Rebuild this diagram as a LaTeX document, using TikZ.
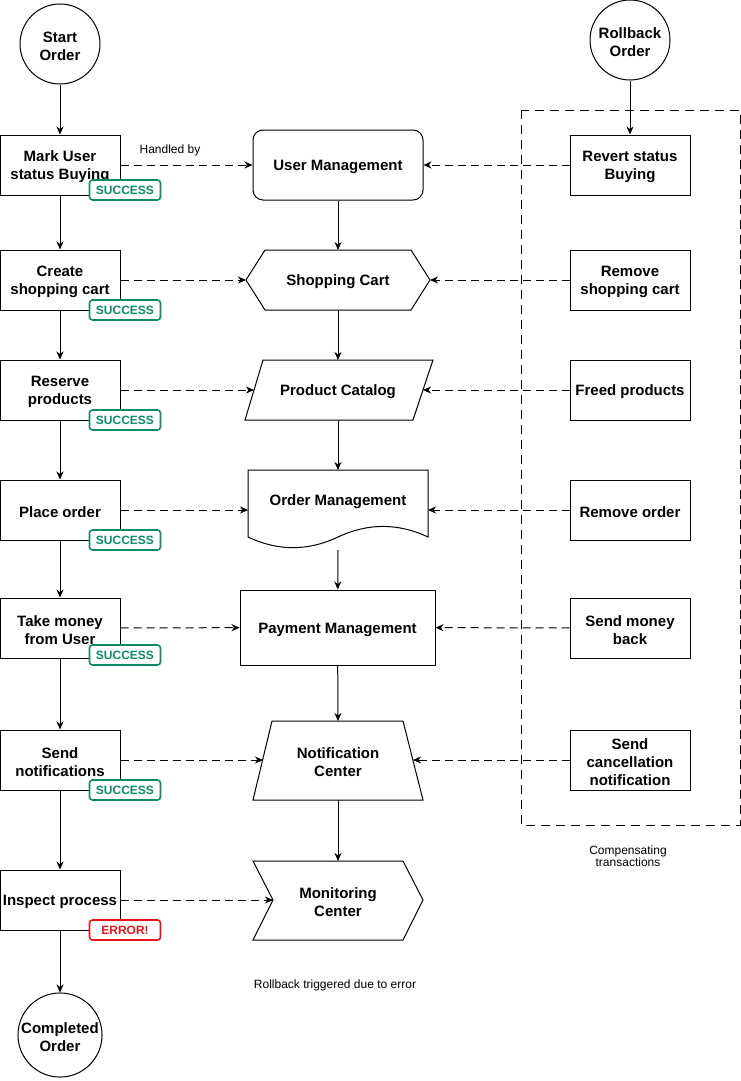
\documentclass[tikz,border=0pt]{standalone}
\usepackage{fontspec}
\setmainfont{Liberation Sans}
\usetikzlibrary{arrows.meta}
\definecolor{okgreen}{HTML}{0E8A68}
\definecolor{errred}{HTML}{E5161B}
\newcommand{\Sx}{\rule{0pt}{15pt}}
\begin{document}
\begin{tikzpicture}[x=1pt,y=-1pt,
  every node/.style={inner sep=0pt},
  lbl/.style={font=\bfseries\fontsize{15}{18}\selectfont, align=center},
  stepbox/.style={draw, line width=1pt, minimum width=120pt, minimum height=60pt, lbl},
  circ/.style={draw, circle, line width=1pt, minimum size=80pt, lbl},
  shp/.style={draw, line width=1pt, fill=white},
  badge/.style={draw=#1, text=#1, fill=white, rounded corners=3pt, line width=1.6pt,
    minimum width=71pt, minimum height=20pt, font=\bfseries\fontsize{12}{14}\selectfont},
  flow/.style={-{Stealth[length=8pt,width=7pt,inset=2.5pt]}, line width=1pt},
  link/.style={flow, dash pattern=on 8pt off 5pt},
  note/.style={font=\fontsize{12}{12}\selectfont, align=center}
]
\useasboundingbox (0,0) rectangle (741,1081);

% compensating frame
\draw[line width=1pt, dash pattern=on 9pt off 6pt] (521,110) rectangle (740,825);
\node[note] (comp) at (628,856) {Compensating\\transactions};
\node[note] (rbnote) at (335,985) {Rollback triggered due to error};

% left column
\node[circ] (start) at (60,44) {\Sx Start\\Order};
\node[stepbox] (mark) at (60,165) {\Sx Mark User\\status Buying};
\node[stepbox] (cart) at (60,280) {\Sx Create\\shopping cart};
\node[stepbox] (reserve) at (60,390) {\Sx Reserve\\products};
\node[stepbox] (place) at (60,510) {\Sx Place order};
\node[stepbox] (money) at (60,628) {\Sx Take money\\from User};
\node[stepbox] (notify) at (60,760) {\Sx Send\\notifications};
\node[stepbox] (inspect) at (60,900) {\Sx Inspect process};
\node[circ] (done) at (60,1035) {\Sx Completed\\Order};

\draw[flow] (start) -- (mark);
\draw[flow] (mark) -- (cart);
\draw[flow] (cart) -- (reserve);
\draw[flow] (reserve) -- (place);
\draw[flow] (place) -- (money);
\draw[flow] (money) -- (notify);
\draw[flow] (notify) -- (inspect);
\draw[flow] (inspect) -- (done);

% right column
\node[circ] (rollback) at (630,40) {\Sx Rollback\\Order};
\node[stepbox] (revert) at (630,165) {\Sx Revert status\\Buying};
\node[stepbox] (rmcart) at (630,280) {\Sx Remove\\shopping cart};
\node[stepbox] (freed) at (630,390) {\Sx Freed products};
\node[stepbox] (rmorder) at (630,510) {\Sx Remove order};
\node[stepbox] (back) at (630,628) {\Sx Send money\\back};
\node[stepbox] (cancel) at (630,760) {\Sx Send\\cancellation\\notification};
\draw[flow] (rollback) -- (revert);

% middle column
\node[draw, line width=1pt, rounded corners=10pt, minimum width=170pt, minimum height=70pt, lbl] (um) at (338,165) {\Sx User Management};

\draw[shp] (246,280) -- (265,250) -- (411,250) -- (430,280) -- (411,310) -- (265,310) -- cycle;
\node[lbl] (sc) at (338,280) {\Sx Shopping Cart};
\coordinate (scT) at (338,250); \coordinate (scB) at (338,310);
\coordinate (scL) at (246,280); \coordinate (scR) at (430,280);

\draw[shp] (263,360) -- (433,360) -- (413,420) -- (245,420) -- cycle;
\node[lbl] (pc) at (338,390) {\Sx Product Catalog};
\coordinate (pcT) at (338,360); \coordinate (pcB) at (338,420);
\coordinate (pcL) at (254,390); \coordinate (pcR) at (423,390);

\draw[shp] (248,470) -- (428,470) -- (428,537)
  .. controls (398,522.9) and (368,522.9) .. (338,537)
  .. controls (308,551.2) and (278,551.2) .. (248,537) -- cycle;
\node[lbl] (om) at (338,500) {\Sx Order Management};
\coordinate (omT) at (338,470); \coordinate (omB) at (338,550);
\coordinate (omL) at (248,510); \coordinate (omR) at (428,510);

\node[draw, line width=1pt, minimum width=195pt, minimum height=75pt, lbl] (pay) at (337.5,627.5) {\Sx Payment Management};

\draw[shp] (272,721) -- (403,721) -- (423,800) -- (253,800) -- cycle;
\node[lbl] (nc) at (338,760) {\Sx Notification\\Center};
\coordinate (ncT) at (338,721); \coordinate (ncB) at (338,800);
\coordinate (ncL) at (263,760); \coordinate (ncR) at (413,760);

\draw[shp] (253,861) -- (403,861) -- (423,900) -- (403,940) -- (253,940) -- (273,900) -- cycle;
\node[lbl] (mc) at (338,900) {\Sx Monitoring\\Center};
\coordinate (mcT) at (338,861); \coordinate (mcL) at (273,900);

\draw[flow] (um) -- (scT);
\draw[flow] (scB) -- (pcT);
\draw[flow] (pcB) -- (omT);
\draw[flow] (omB) -- (pay);
\draw[flow] (pay) -- (ncT);
\draw[flow] (ncB) -- (mcT);

% handled-by links
\draw[link] (mark) -- (um);
\node[note] (handled) at (170,150) {Handled by};
\draw[link] (cart) -- (scL);
\draw[link] (reserve) -- (pcL);
\draw[link] (place) -- (omL);
\draw[link] (money) -- (pay);
\draw[link] (notify) -- (ncL);
\draw[link] (inspect) -- (mcL);

% compensating links
\draw[link] (revert) -- (um);
\draw[link] (rmcart) -- (scR);
\draw[link] (freed) -- (pcR);
\draw[link] (rmorder) -- (omR);
\draw[link] (back) -- (pay);
\draw[link] (cancel) -- (ncR);

% badges
\node[badge=okgreen] (b1) at (125,190) {SUCCESS};
\node[badge=okgreen] (b2) at (125,310) {SUCCESS};
\node[badge=okgreen] (b3) at (125,420) {SUCCESS};
\node[badge=okgreen] (b4) at (125,540) {SUCCESS};
\node[badge=okgreen] (b5) at (125,655) {SUCCESS};
\node[badge=okgreen] (b6) at (125,790) {SUCCESS};
\node[badge=errred] (b7) at (125,930) {ERROR!};
\end{tikzpicture}
\end{document}
